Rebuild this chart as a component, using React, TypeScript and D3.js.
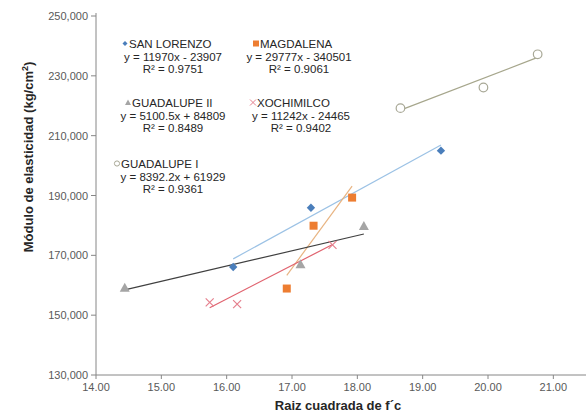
import React from 'react';
import * as d3 from 'd3';

// values
const sanLorenzoX = [16.1, 17.29, 19.28];
const sanLorenzoY = [166100, 185900, 205000];
const magdalenaX = [16.92, 17.33, 17.92];
const magdalenaY = [158900, 179900, 189300];
const guadalupe2X = [14.44, 17.13, 18.1];
const guadalupe2Y = [159200, 167000, 179800];
const xochimilcoX = [15.74, 16.16, 17.62];
const xochimilcoY = [154300, 153700, 173500];
const guadalupe1X = [18.66, 19.93, 20.76];
const guadalupe1Y = [219200, 226100, 237200];

const xTicks = [14, 15, 16, 17, 18, 19, 20, 21];
const yTicks = [130000, 150000, 170000, 190000, 210000, 230000, 250000];

// trendline coefficients [slope, intercept], with equation and R² labels
const series = [
  { name: 'SAN LORENZO', xs: sanLorenzoX, ys: sanLorenzoY, fit: [11970, -23907], eq: 'y = 11970x - 23907', r2: 'R² = 0.9751', marker: 'diamond', color: '#4a7ebb', line: '#9cc2e5' },
  { name: 'MAGDALENA', xs: magdalenaX, ys: magdalenaY, fit: [29777, -340501], eq: 'y = 29777x - 340501', r2: 'R² = 0.9061', marker: 'square', color: '#ed7d31', line: '#e8b482' },
  { name: 'GUADALUPE II', xs: guadalupe2X, ys: guadalupe2Y, fit: [5100.5, 84809], eq: 'y = 5100.5x + 84809', r2: 'R² = 0.8489', marker: 'triangle', color: '#a5a5a5', line: '#404040' },
  { name: 'XOCHIMILCO', xs: xochimilcoX, ys: xochimilcoY, fit: [11242, -24465], eq: 'y = 11242x - 24465', r2: 'R² = 0.9402', marker: 'x', color: '#e5808e', line: '#e0636f' },
  { name: 'GUADALUPE I', xs: guadalupe1X, ys: guadalupe1Y, fit: [8392.2, 61929], eq: 'y = 8392.2x + 61929', r2: 'R² = 0.9361', marker: 'circle', color: '#a8a896', line: '#a6a68c' },
];

// legend blocks: [equation center x, name line y, name start x]
const legendPos = [
  [173, 44, 129], [299, 44, 260], [173, 103, 132], [301, 103, 257], [173, 164, 121],
];

const W = 587, H = 416;
const x = d3.scaleLinear().domain([14, 21.5]).range([96, 586]);
const y = d3.scaleLinear().domain([130000, 250000]).range([375, 16]);
const fmtY = d3.format(',');
const fmtX = d3.format('.2f');

function Marker({ type, cx, cy, color }: { type: string; cx: number; cy: number; color: string }) {
  if (type === 'diamond') {
    const s = 4.2;
    return <path d={`M${cx},${cy - s}L${cx + s},${cy}L${cx},${cy + s}L${cx - s},${cy}Z`} fill={color} />;
  }
  if (type === 'square') return <rect x={cx - 4} y={cy - 4} width={8} height={8} fill={color} />;
  if (type === 'triangle') {
    const s = 5;
    return <path d={`M${cx},${cy - s}L${cx + s},${cy + s * 0.8}L${cx - s},${cy + s * 0.8}Z`} fill={color} />;
  }
  if (type === 'x') {
    const s = 4;
    return <path d={`M${cx - s},${cy - s}L${cx + s},${cy + s}M${cx - s},${cy + s}L${cx + s},${cy - s}`} stroke={color} strokeWidth={1.2} fill="none" />;
  }
  return <circle cx={cx} cy={cy} r={4.3} fill="white" stroke={color} strokeWidth={1.2} />;
}

function LegendMarker({ type, cx, cy, color }: { type: string; cx: number; cy: number; color: string }) {
  if (type === 'diamond') return <path d={`M${cx},${cy - 2.5}L${cx + 2.5},${cy}L${cx},${cy + 2.5}L${cx - 2.5},${cy}Z`} fill={color} />;
  if (type === 'square') return <rect x={cx - 3} y={cy - 3} width={6} height={6} fill={color} />;
  if (type === 'triangle') return <path d={`M${cx},${cy - 3}L${cx + 3},${cy + 2.5}L${cx - 3},${cy + 2.5}Z`} fill={color} />;
  if (type === 'x') return <path d={`M${cx - 3},${cy - 3}L${cx + 3},${cy + 3}M${cx - 3},${cy + 3}L${cx + 3},${cy - 3}`} stroke={color} strokeWidth={1} />;
  return <circle cx={cx} cy={cy} r={2.6} fill="white" stroke={color} strokeWidth={1} />;
}

export default function App() {
  const line = d3.line<number>().x(v => x(v));
  return (
    <svg width={W} height={H} style={{ position: 'absolute', left: 0, top: 0, background: 'white' }}
      fontFamily="'Liberation Sans', Arial, sans-serif">
      {/* axes */}
      <line x1={x(14)} x2={x(21.5)} y1={y(130000)} y2={y(130000)} stroke="#868686" />
      <line x1={x(14)} x2={x(14)} y1={y(250000) - 3} y2={y(130000)} stroke="#868686" />
      {yTicks.map(t => (
        <g key={t}>
          <line x1={x(14) - 5} x2={x(14)} y1={y(t)} y2={y(t)} stroke="#868686" />
          <text x={x(14) - 8} y={y(t) + 4} textAnchor="end" fontSize={11} fill="#595959">{fmtY(t)}</text>
        </g>
      ))}
      {xTicks.map(t => (
        <g key={t}>
          <line x1={x(t)} x2={x(t)} y1={y(130000)} y2={y(130000) + 4} stroke="#868686" />
          <text x={x(t)} y={y(130000) + 16} textAnchor="middle" fontSize={11} fill="#595959">{fmtX(t)}</text>
        </g>
      ))}
      <text x={338} y={410} textAnchor="middle" fontSize={13} fontWeight="bold" fill="#262626">Raiz cuadrada de f´c</text>
      <text transform={`translate(33,157) rotate(-90)`} textAnchor="middle" fontSize={13} fontWeight="bold" fill="#262626">
        Módulo de elasticidad (kg/cm<tspan dy={-5} fontSize={9}>2</tspan><tspan dy={5}>)</tspan>
      </text>

      {/* trendlines */}
      {series.map(s => {
        const lo = d3.min(s.xs)!, hi = d3.max(s.xs)!;
        const l = line.y(v => y(s.fit[0] * v + s.fit[1]));
        return <path key={s.name + 'fit'} d={l([lo, hi])!} stroke={s.line} strokeWidth={1.2} fill="none" />;
      })}

      {/* points */}
      {series.map(s => s.xs.map((v, i) => (
        <Marker key={s.name + i} type={s.marker} cx={x(v)} cy={y(s.ys[i])} color={s.color} />
      )))}

      {/* labels */}
      {series.map((s, i) => {
        const [cx, cy, nx] = legendPos[i];
        return (
          <g key={s.name + 'lbl'} fontSize={11.5} fill="#262626">
            <LegendMarker type={s.marker} cx={nx - 4} cy={cy - 0.5} color={s.color} />
            <text x={nx} y={cy + 4}>{s.name}</text>
            <text x={cx} y={cy + 17} textAnchor="middle">{s.eq}</text>
            <text x={cx} y={cy + 29} textAnchor="middle">{s.r2}</text>
          </g>
        );
      })}
    </svg>
  );
}
